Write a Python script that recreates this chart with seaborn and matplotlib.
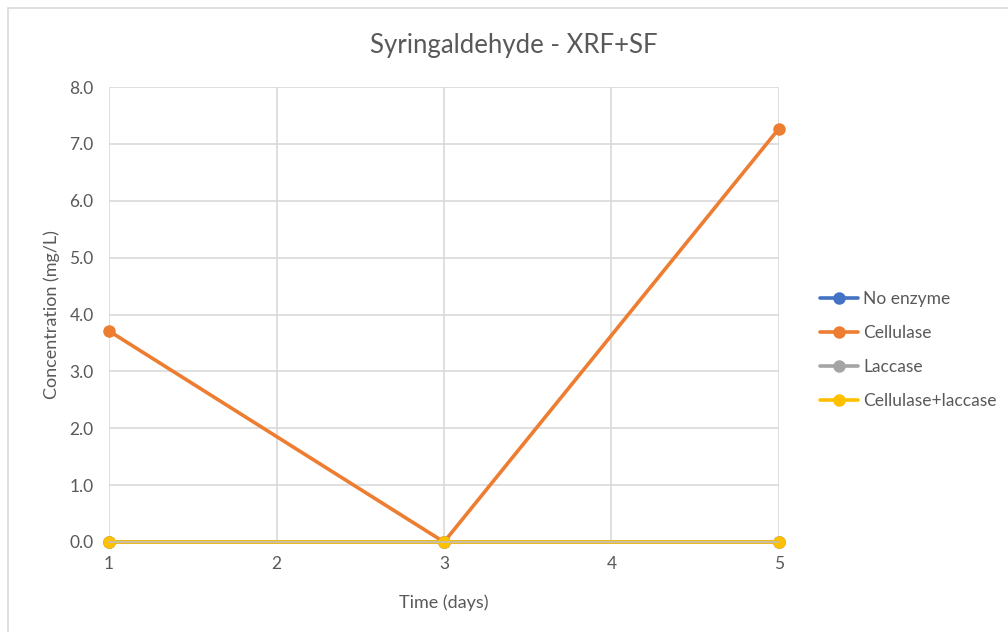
import numpy as np
import pandas as pd
import matplotlib
matplotlib.use("Agg")
import matplotlib.pyplot as plt
import seaborn as sns
from matplotlib.patches import Rectangle

# data
days = [1, 3, 5]
series_names = ["No enzyme", "Cellulase", "Laccase", "Cellulase+laccase"]
no_enzyme = [0.0, 0.0, 0.0]
cellulase = [3.71, 0.0, 7.27]
laccase = [0.0, 0.0, 0.0]
cellulase_laccase = [0.0, 0.0, 0.0]
colors = ["#4472C4", "#ED7D31", "#A5A5A5", "#FFC000"]
y_ticks = [0.0, 1.0, 2.0, 3.0, 4.0, 5.0, 6.0, 7.0, 8.0]
x_ticks = [1, 2, 3, 4, 5]

df = pd.DataFrame({
    "Time (days)": days * 4,
    "Concentration (mg/L)": no_enzyme + cellulase + laccase + cellulase_laccase,
    "Series": np.repeat(series_names, len(days)),
})

sns.set_style("white")
plt.rcParams["font.family"] = ["Lato", "DejaVu Sans"]
text_col = "#595959"

fig = plt.figure(figsize=(10.08, 6.32), dpi=100)
fig.patches.append(Rectangle((8 / 1008, -0.1), 1.1, 1 - 8 / 632 + 0.1, transform=fig.transFigure,
                             fill=False, edgecolor="#d9d9d9", linewidth=1.2))
ax = fig.add_axes([109 / 1008, 1 - 542 / 632, 670 / 1008, 455 / 632])

sns.lineplot(data=df, x="Time (days)", y="Concentration (mg/L)", hue="Series", style="Series",
             hue_order=series_names, style_order=series_names, palette=colors,
             markers=["o"] * 4, dashes=False, linewidth=2.6, markersize=9,
             markeredgewidth=0, ax=ax, clip_on=False)

ax.set_xlim(1, 5)
ax.set_ylim(0, 8)
ax.set_xticks(x_ticks)
ax.set_yticks(y_ticks)
ax.set_yticklabels([f"{v:.1f}" for v in y_ticks])
ax.grid(True, color="#d9d9d9", linewidth=1.2)
ax.set_axisbelow(True)
for s in ["top", "right", "left"]:
    ax.spines[s].set_visible(False)
ax.spines["bottom"].set_color("#bfbfbf")
ax.spines["bottom"].set_linewidth(1.2)
ax.tick_params(length=0, labelsize=12.5, labelcolor=text_col)
ax.tick_params(axis="x", pad=10)
ax.tick_params(axis="y", pad=11)
ax.set_xlabel("Time (days)", fontsize=13, color=text_col, labelpad=16)
ax.set_ylabel("Concentration (mg/L)", fontsize=13, color=text_col, labelpad=7)
fig.text(514 / 1008, 1 - 45 / 632, "Syringaldehyde - XRF+SF", ha="center", va="center",
         fontsize=18.5, color=text_col)

handles, labels = ax.get_legend_handles_labels()
ax.legend(handles, labels, loc="center left", bbox_to_anchor=(804 / 1008, 1 - 350 / 632),
          bbox_transform=fig.transFigure, frameon=False, fontsize=12.5, labelcolor=text_col,
          handlelength=2.2, handletextpad=0.3, labelspacing=1.05)

fig.savefig("out.png", dpi=100, facecolor="white")
